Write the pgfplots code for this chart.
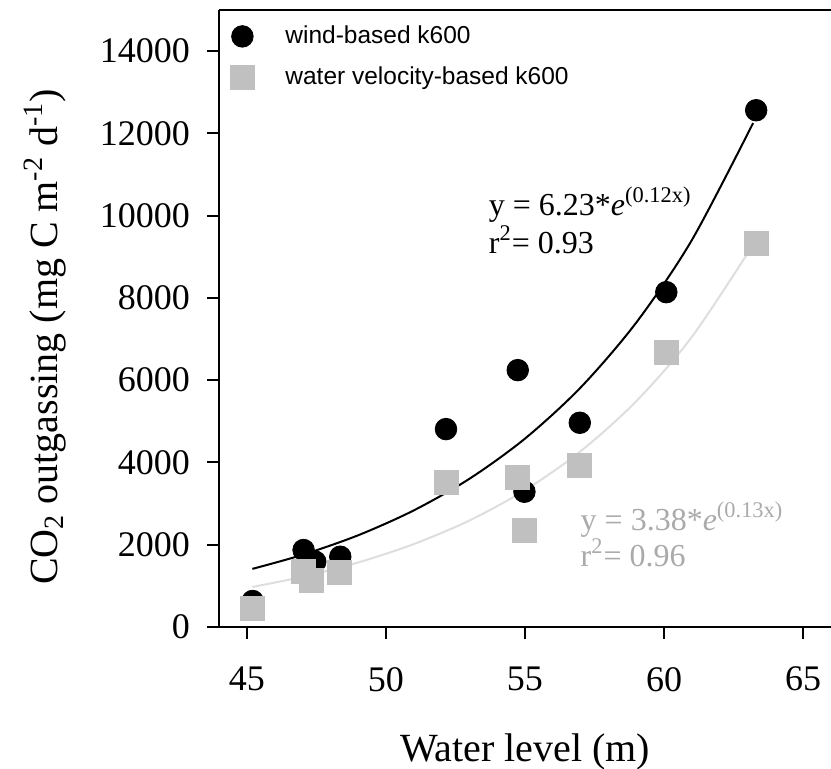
\documentclass[border=0pt]{standalone}
\usepackage{fontspec}
\setmainfont{Liberation Serif}
\newfontfamily\arialfont{Liberation Sans}
\usepackage{pgfplots}
\pgfplotsset{compat=1.18}
\definecolor{sqgray}{RGB}{192,192,192}
\definecolor{fitgray}{RGB}{222,222,222}
\definecolor{txtgray}{RGB}{170,170,170}
\begin{document}
\begin{tikzpicture}
\begin{axis}[
  scale only axis, width=306pt, height=308.5pt,
  xmin=44, xmax=66, ymin=0, ymax=15000,
  xtick={45,50,55,60,65}, ytick={0,2000,4000,6000,8000,10000,12000,14000},
  scaled y ticks=false,
  /pgf/number format/1000 sep={},
  /pgf/number format/assume math mode=true,
  axis x line*=bottom, axis y line*=left,
  axis line style={line width=1pt},
  tick align=outside, major tick length=6pt,
  tick style={black, line width=1pt},
  minor tick num=0,
  ticklabel style={font=\fontsize{18}{18}\selectfont},
  xticklabel style={yshift=-10.5pt},
  yticklabel style={xshift=-5pt},
  xlabel={Water level (m)},
  ylabel={CO\textsubscript{2} outgassing (mg C m\textsuperscript{-2} d\textsuperscript{-1})},
  label style={font=\fontsize{20}{20}\selectfont},
  xlabel style={at={(axis description cs:0.5,0)}, anchor=base, yshift=-67.5pt},
  ylabel style={at={(axis description cs:-0.284,0.47)}, anchor=center},
  clip=false,
  legend cell align=left,
  legend style={draw=none, fill=none, at={(axis description cs:0,1)}, anchor=north west,
    font=\arialfont\fontsize{12.25}{14}\selectfont, xshift=-0.5pt, yshift=-2pt,
    row sep=2.5pt},
  legend image code/.code={\draw[#1] plot coordinates {(0pt,0pt)}; \path[draw=none,fill=none] (-9pt,-9pt) rectangle (19.5pt,9pt);},
]
\coordinate (bl) at (rel axis cs:0,0);
\coordinate (tr) at (rel axis cs:1,1);
\draw[line width=1pt] (rel axis cs:0,1) -- (rel axis cs:1,1);
% fitted curves
\addplot[black, line width=1pt, smooth, forget plot] coordinates {
 (45.2,1413) (47,1754) (49,2229) (51,2834) (53,3602) (55,4580) (57,5822) (59,7401) (61,9408) (63.2,12251)};
\addplot[fitgray, line width=1pt, smooth, forget plot] coordinates {
 (45.2,974) (47,1220) (49,1568) (51,2015) (53,2588) (55,3326) (57,4273) (59,5489) (61,7053) (63.2,9292)};
% wind-based
\addplot[only marks, mark=*, mark size=5.4pt, draw=black, fill=black] coordinates {
 (45.21,632) (47.04,1871) (47.46,1587) (48.36,1708) (52.16,4811) (54.74,6245) (54.98,3288) (56.97,4965) (60.08,8140) (63.31,12563)};
\addlegendentry{wind-based k600}
% water velocity-based
\addplot[only marks, mark=square*, mark size=6pt, draw=sqgray, fill=sqgray] coordinates {
 (45.21,454) (47.04,1344) (47.32,1142) (48.32,1329) (52.17,3507) (54.74,3637) (54.98,2357) (56.95,3920) (60.08,6683) (63.31,9324)};
\addlegendentry{water velocity-based k600}
\node[anchor=base west, font=\fontsize{16}{16}\selectfont] at (axis cs:53.45,10012) {y = 6.23*\textit{e}\textsuperscript{(0.12x)}};
\node[anchor=base west, font=\fontsize{16}{16}\selectfont] at (axis cs:53.45,9090) {r\textsuperscript{2}= 0.93};
\node[anchor=base west, font=\fontsize{16}{16}\selectfont, text=txtgray] at (axis cs:56.75,2357) {y = 3.38*\textit{e}\textsuperscript{(0.13x)}};
\node[anchor=base west, font=\fontsize{16}{16}\selectfont, text=txtgray] at (axis cs:56.75,1480) {r\textsuperscript{2}= 0.96};
\end{axis}
\pgfresetboundingbox
\path ([shift={(-109.5pt,-71pt)}]bl) rectangle ([shift={(0pt,5pt)}]tr);
\end{tikzpicture}
\end{document}
